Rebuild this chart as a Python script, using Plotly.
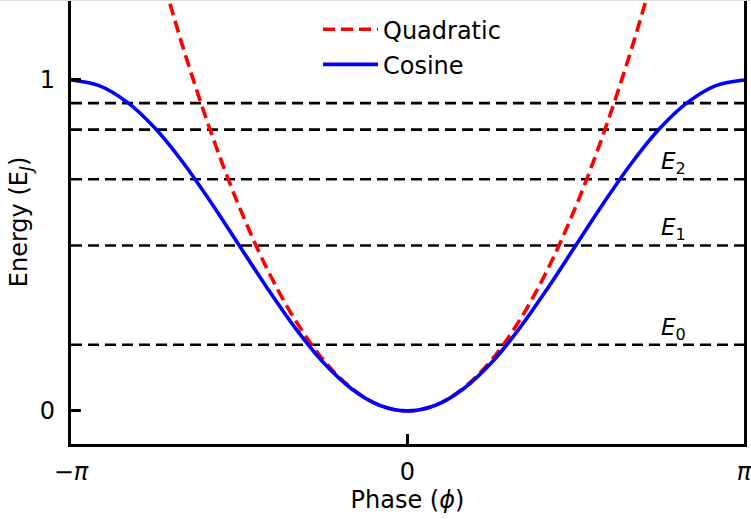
import math
import plotly.graph_objects as go

PI = math.pi

# Phase samples (multiples of pi/12) and values
phase = [k * PI / 12 for k in range(-12, 13)]
cosine_energy = [1.0, 0.983, 0.933, 0.854, 0.75, 0.629, 0.5, 0.371, 0.25, 0.146, 0.067, 0.017, 0.0,
                 0.017, 0.067, 0.146, 0.25, 0.371, 0.5, 0.629, 0.75, 0.854, 0.933, 0.983, 1.0]

quad_phase = [k * PI / 12 for k in range(-9, 10)]
quad_energy = [1.388, 1.097, 0.840, 0.617, 0.428, 0.274, 0.154, 0.069, 0.017, 0.0,
               0.017, 0.069, 0.154, 0.274, 0.428, 0.617, 0.840, 1.097, 1.388]

levels = [0.2, 0.5, 0.7, 0.85, 0.93]
level_labels = ["<i>E</i><sub>0</sub>", "<i>E</i><sub>1</sub>", "<i>E</i><sub>2</sub>"]
label_phase = 2.48

x_tick_vals = [-PI, 0, PI]
x_tick_text = ["−<i>π</i>", "0", "<i>π</i>"]
y_tick_vals = [0, 1]
y_tick_text = ["0", "1"]

FONT = "DejaVu Sans"

fig = go.Figure()

for lv in levels:
    fig.add_trace(go.Scatter(x=[-PI, PI], y=[lv, lv], mode="lines",
                             line=dict(color="black", width=2.6, dash="11px,6px"),
                             showlegend=False, hoverinfo="skip"))

fig.add_trace(go.Scatter(x=quad_phase, y=quad_energy, mode="lines", name="Quadratic",
                         line=dict(color="#ff0000", width=3.6, dash="12px,6px", shape="spline"),
                         legendgroup="q"))
fig.add_trace(go.Scatter(x=phase, y=cosine_energy, mode="lines", name="Cosine",
                         line=dict(color="#0000ff", width=3.6, shape="spline"),
                         legendgroup="c"))

for lbl, lv in zip(level_labels, levels[:3]):
    fig.add_annotation(x=label_phase, y=lv, text=lbl, showarrow=False,
                       yanchor="bottom", xanchor="center", yshift=-1,
                       font=dict(family=FONT, size=23, color="black"))

fig.add_shape(type="line", xref="paper", yref="paper", x0=-0.2, x1=1.2, y0=1.0, y1=1.0,
              line=dict(color="#dddddd", width=2), layer="above")

fig.update_layout(
    width=751, height=519,
    margin=dict(l=71, r=7, t=0, b=75),
    paper_bgcolor="white", plot_bgcolor="white",
    font=dict(family=FONT, size=24, color="black"),
    showlegend=True,
    legend=dict(x=0.367, y=0.984, xanchor="left", yanchor="top",
                bgcolor="rgba(0,0,0,0)", borderwidth=0,
                font=dict(family=FONT, size=24),
                tracegroupgap=1, itemwidth=55),
    xaxis=dict(range=[-PI, PI], showgrid=False, zeroline=False,
               showline=True, linecolor="black", linewidth=3.2,
               ticks="inside", ticklen=10, tickwidth=2.8, tickcolor="black",
               tickvals=x_tick_vals, ticktext=x_tick_text, ticklabelstandoff=4,
               ticklabeloverflow="allow",
               tickfont=dict(family=FONT, size=24),
               title=dict(text="Phase (<i>ϕ</i>)", font=dict(family=FONT, size=24), standoff=0)),
    yaxis=dict(range=[-0.1, 1.2417], showgrid=False, zeroline=False,
               showline=True, linecolor="black", linewidth=3.2, mirror=True,
               ticks="inside", ticklen=10, tickwidth=2.8, tickcolor="black",
               tickvals=y_tick_vals, ticktext=y_tick_text, ticklabelstandoff=8,
               tickfont=dict(family=FONT, size=24),
               title=dict(text="Energy (E<sub><i>J</i></sub>)", font=dict(family=FONT, size=24), standoff=6)),
)

fig.write_html("out.html")
